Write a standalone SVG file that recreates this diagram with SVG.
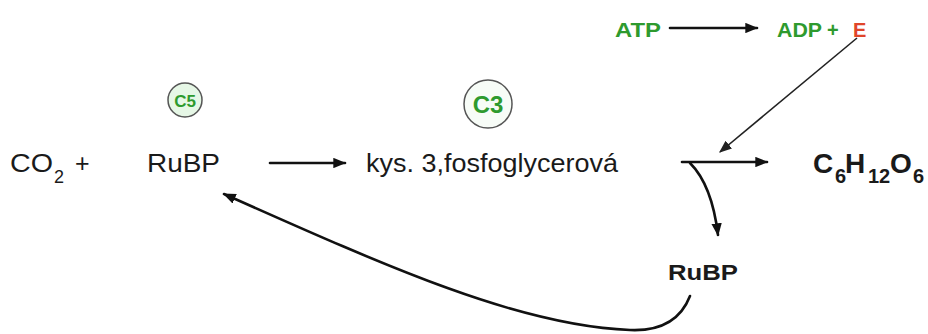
<svg xmlns="http://www.w3.org/2000/svg" width="928" height="334" viewBox="0 0 928 334">
<defs>
<style>
.t{font-family:"Liberation Sans",Arial,sans-serif;fill:#1a1a1a}
.b{font-weight:bold}
.g{fill:#2e9a2e}
.r{fill:#e0452a}
.ln{fill:none;stroke:#111;stroke-width:2.6;stroke-linecap:round}
.thin{fill:none;stroke:#222;stroke-width:1.6}
.ring{stroke:#555;stroke-width:1.5}
</style>
<marker id="ah" viewBox="0 0 10 8" refX="9" refY="4" markerWidth="5" markerHeight="4" orient="auto" markerUnits="strokeWidth">
<path d="M0,0 L10,4 L0,8 z" fill="#111"/>
</marker>
<marker id="ah2" viewBox="0 0 10 8" refX="9" refY="4" markerWidth="8" markerHeight="6.4" orient="auto" markerUnits="strokeWidth">
<path d="M0,0 L10,4 L0,8 z" fill="#222"/>
</marker>
</defs>
<rect width="928" height="334" fill="#fff"/>

<g id="atp"><text class="t b g" x="615" y="37" font-size="20" textLength="46" lengthAdjust="spacingAndGlyphs">ATP</text></g>
<g id="adp"><text class="t b g" x="777" y="37" font-size="20" textLength="45" lengthAdjust="spacingAndGlyphs">ADP</text>
<text class="t b g" x="827" y="37" font-size="20">+</text>
<text class="t b r" x="853" y="37" font-size="20">E</text></g>

<g id="c5"><circle class="ring" cx="185" cy="100" r="17" fill="#e6f7e6"/>
<text class="t b g" x="185" y="107" font-size="17" text-anchor="middle" fill="#1f8a1f">C5</text></g>
<g id="c3"><circle class="ring" cx="488" cy="104" r="24" fill="#f7fcf7"/>
<text class="t b g" x="488" y="113" font-size="24" text-anchor="middle">C3</text></g>

<g id="co2"><text class="t" x="10" y="172" font-size="25" textLength="43" lengthAdjust="spacingAndGlyphs">CO</text>
<text class="t" x="54" y="183" font-size="18">2</text>
<text class="t" x="75" y="172" font-size="25">+</text></g>
<g id="rubp1"><text class="t" x="147" y="172" font-size="25" textLength="73" lengthAdjust="spacingAndGlyphs">RuBP</text></g>
<g id="pga"><text class="t" x="366" y="172" font-size="25" textLength="252" lengthAdjust="spacingAndGlyphs">kys. 3,fosfoglycerová</text></g>
<g id="glucose"><text class="t b" y="173" font-size="28"><tspan x="813">C</tspan><tspan x="835" y="183" font-size="20">6</tspan><tspan x="845" y="173">H</tspan><tspan x="868" y="183" font-size="20">12</tspan><tspan x="890" y="173">O</tspan><tspan x="913" y="183" font-size="20">6</tspan></text></g>
<g id="rubp2"><text class="t b" x="668" y="280" font-size="22" textLength="70" lengthAdjust="spacingAndGlyphs">RuBP</text></g>

<g id="connectors">
<line class="ln" x1="670" y1="28" x2="757" y2="28" stroke-width="2.2" marker-end="url(#ah)"/>
<line class="ln" x1="270" y1="163" x2="345" y2="163" marker-end="url(#ah)"/>
<line class="thin" x1="857" y1="38" x2="720" y2="152" marker-end="url(#ah2)"/>
<line class="ln" x1="682" y1="162" x2="767" y2="162" marker-end="url(#ah)"/>
<path class="ln" d="M690 163 Q712 185 718 235" marker-end="url(#ah)"/>
<path class="ln" d="M690 296 Q676 332 630 330 C520 326 390 268 224 194" marker-end="url(#ah)"/>
</g>
</svg>
